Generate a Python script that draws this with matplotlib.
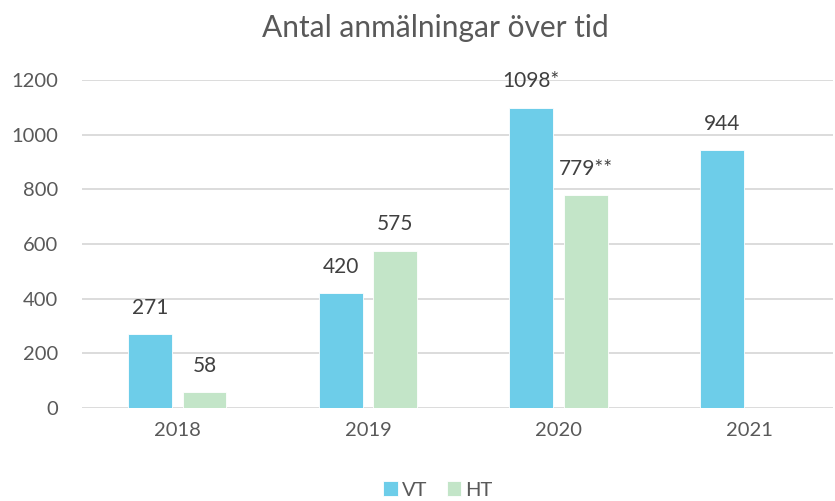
import matplotlib
matplotlib.use("Agg")
import matplotlib.pyplot as plt
import numpy as np

plt.rcParams['font.family'] = ['Lato', 'DejaVu Sans']

years = ["2018", "2019", "2020", "2021"]
vt = [271, 420, 1098, 944]
ht = [58, 575, 779, None]
vt_labels = ["271", "420", "1098*", "944"]
ht_labels = ["58", "575", "779**", ""]

vt_color = "#6DCDE9"
ht_color = "#C3E5C8"
text_color = "#404040"
tick_color = "#595959"

fig = plt.figure(figsize=(8.35, 5.01), dpi=100)
ax = fig.add_axes([82 / 835, 1 - 408 / 501, (833 - 82) / 835, (408 - 80) / 501])

x = np.arange(len(years))
off = 0.143
w = 0.23
ht_mask = [v is not None for v in ht]

bv = ax.bar(x - off, vt, w, color=vt_color, edgecolor="white", linewidth=0.6, zorder=3, label="VT")
bh = ax.bar(x[ht_mask] + off, [v for v in ht if v is not None], w, color=ht_color,
            edgecolor="white", linewidth=0.6, zorder=3, label="HT")

for xi, v, lab in zip(x, vt, vt_labels):
    ax.annotate(lab, (xi - off, v), xytext=(0, 19), textcoords="offset points",
                ha="center", va="center", fontsize=15, color=text_color)
for xi, v, lab in zip(x, ht, ht_labels):
    if v is None:
        continue
    ax.annotate(lab, (xi + off, v), xytext=(0, 19), textcoords="offset points",
                ha="center", va="center", fontsize=15, color=text_color)

ax.set_xlim(-0.5, 3.44)
ax.set_ylim(0, 1200)
ax.set_yticks(range(0, 1201, 200))
ax.set_xticks(x)
ax.set_xticklabels(years)
ax.grid(axis="y", color="#D9D9D9", linewidth=1.3, zorder=0)
for s in ax.spines.values():
    s.set_visible(False)
ax.tick_params(length=0, labelsize=14.5, colors=tick_color)
ax.tick_params(axis="y", pad=17)
ax.tick_params(axis="x", pad=10)

fig.text(435 / 835, 1 - 28 / 501, "Antal anmälningar över tid", ha="center", va="center",
         fontsize=21.5, color=tick_color)

fig.legend(handles=[bv, bh], labels=["VT", "HT"], loc="center", bbox_to_anchor=(438 / 835, 1 - 490 / 501),
           ncol=2, frameon=False, fontsize=14.5, handlelength=0.7, handleheight=0.7,
           handletextpad=0.2, columnspacing=1.0, labelcolor=tick_color)

fig.savefig("out.png", dpi=100)
